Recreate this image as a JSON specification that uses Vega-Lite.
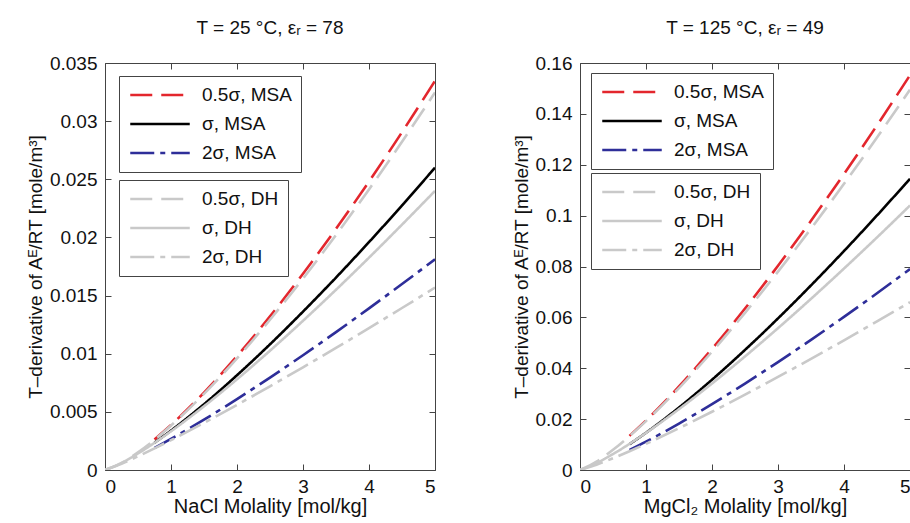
{
  "$schema": "https://vega.github.io/schema/vega-lite/v6.json",
  "background": "white",
  "padding": {"left": 25, "top": 18, "right": 0, "bottom": 0},
  "datasets": {
    "pts": [
      {"p":"L","s":"0.5σ, MSA","x":0.75,"y":0.00263},{"p":"L","s":"0.5σ, MSA","x":1,"y":0.00387},{"p":"L","s":"0.5σ, MSA","x":1.5,"y":0.00666},{"p":"L","s":"0.5σ, MSA","x":2,"y":0.0098},{"p":"L","s":"0.5σ, MSA","x":2.5,"y":0.01322},{"p":"L","s":"0.5σ, MSA","x":3,"y":0.01687},{"p":"L","s":"0.5σ, MSA","x":3.5,"y":0.02074},{"p":"L","s":"0.5σ, MSA","x":4,"y":0.02481},{"p":"L","s":"0.5σ, MSA","x":4.5,"y":0.02905},{"p":"L","s":"0.5σ, MSA","x":5,"y":0.03346},
      {"p":"L","s":"σ, MSA","x":0.75,"y":0.00235},{"p":"L","s":"σ, MSA","x":1,"y":0.00339},{"p":"L","s":"σ, MSA","x":1.5,"y":0.00566},{"p":"L","s":"σ, MSA","x":2,"y":0.00815},{"p":"L","s":"σ, MSA","x":2.5,"y":0.01081},{"p":"L","s":"σ, MSA","x":3,"y":0.01362},{"p":"L","s":"σ, MSA","x":3.5,"y":0.01655},{"p":"L","s":"σ, MSA","x":4,"y":0.0196},{"p":"L","s":"σ, MSA","x":4.5,"y":0.02275},{"p":"L","s":"σ, MSA","x":5,"y":0.026},
      {"p":"L","s":"2σ, MSA","x":0.75,"y":0.0019},{"p":"L","s":"2σ, MSA","x":1,"y":0.00268},{"p":"L","s":"2σ, MSA","x":1.5,"y":0.00433},{"p":"L","s":"2σ, MSA","x":2,"y":0.0061},{"p":"L","s":"2σ, MSA","x":2.5,"y":0.00795},{"p":"L","s":"2σ, MSA","x":3,"y":0.00987},{"p":"L","s":"2σ, MSA","x":3.5,"y":0.01186},{"p":"L","s":"2σ, MSA","x":4,"y":0.0139},{"p":"L","s":"2σ, MSA","x":4.5,"y":0.01599},{"p":"L","s":"2σ, MSA","x":5,"y":0.01812},
      {"p":"L","s":"0.5σ, DH","x":0,"y":0},{"p":"L","s":"0.5σ, DH","x":0.25,"y":0.0006},{"p":"L","s":"0.5σ, DH","x":0.5,"y":0.00152},{"p":"L","s":"0.5σ, DH","x":0.75,"y":0.0026},{"p":"L","s":"0.5σ, DH","x":1,"y":0.00382},{"p":"L","s":"0.5σ, DH","x":1.5,"y":0.00655},{"p":"L","s":"0.5σ, DH","x":2,"y":0.0096},{"p":"L","s":"0.5σ, DH","x":2.5,"y":0.01292},{"p":"L","s":"0.5σ, DH","x":3,"y":0.01646},{"p":"L","s":"0.5σ, DH","x":3.5,"y":0.02021},{"p":"L","s":"0.5σ, DH","x":4,"y":0.02413},{"p":"L","s":"0.5σ, DH","x":4.5,"y":0.02823},{"p":"L","s":"0.5σ, DH","x":5,"y":0.03247},
      {"p":"L","s":"σ, DH","x":0,"y":0},{"p":"L","s":"σ, DH","x":0.25,"y":0.00061},{"p":"L","s":"σ, DH","x":0.5,"y":0.00142},{"p":"L","s":"σ, DH","x":0.75,"y":0.00234},{"p":"L","s":"σ, DH","x":1,"y":0.00333},{"p":"L","s":"σ, DH","x":1.5,"y":0.00548},{"p":"L","s":"σ, DH","x":2,"y":0.0078},{"p":"L","s":"σ, DH","x":2.5,"y":0.01026},{"p":"L","s":"σ, DH","x":3,"y":0.01283},{"p":"L","s":"σ, DH","x":3.5,"y":0.0155},{"p":"L","s":"σ, DH","x":4,"y":0.01826},{"p":"L","s":"σ, DH","x":4.5,"y":0.0211},{"p":"L","s":"σ, DH","x":5,"y":0.024},
      {"p":"L","s":"2σ, DH","x":0,"y":0},{"p":"L","s":"2σ, DH","x":0.25,"y":0.00054},{"p":"L","s":"2σ, DH","x":0.5,"y":0.00118},{"p":"L","s":"2σ, DH","x":0.75,"y":0.00186},{"p":"L","s":"2σ, DH","x":1,"y":0.00257},{"p":"L","s":"2σ, DH","x":1.5,"y":0.00405},{"p":"L","s":"2σ, DH","x":2,"y":0.0056},{"p":"L","s":"2σ, DH","x":2.5,"y":0.0072},{"p":"L","s":"2σ, DH","x":3,"y":0.00883},{"p":"L","s":"2σ, DH","x":3.5,"y":0.0105},{"p":"L","s":"2σ, DH","x":4,"y":0.0122},{"p":"L","s":"2σ, DH","x":4.5,"y":0.01393},{"p":"L","s":"2σ, DH","x":5,"y":0.01569},
      {"p":"R","s":"0.5σ, MSA","x":0.75,"y":0.01343},{"p":"R","s":"0.5σ, MSA","x":1,"y":0.01947},{"p":"R","s":"0.5σ, MSA","x":1.5,"y":0.03284},{"p":"R","s":"0.5σ, MSA","x":2,"y":0.0476},{"p":"R","s":"0.5σ, MSA","x":2.5,"y":0.06347},{"p":"R","s":"0.5σ, MSA","x":3,"y":0.08031},{"p":"R","s":"0.5σ, MSA","x":3.5,"y":0.09798},{"p":"R","s":"0.5σ, MSA","x":4,"y":0.11639},{"p":"R","s":"0.5σ, MSA","x":4.5,"y":0.13549},{"p":"R","s":"0.5σ, MSA","x":5,"y":0.15522},
      {"p":"R","s":"σ, MSA","x":0.75,"y":0.01014},{"p":"R","s":"σ, MSA","x":1,"y":0.01464},{"p":"R","s":"σ, MSA","x":1.5,"y":0.02458},{"p":"R","s":"σ, MSA","x":2,"y":0.0355},{"p":"R","s":"σ, MSA","x":2.5,"y":0.04721},{"p":"R","s":"σ, MSA","x":3,"y":0.0596},{"p":"R","s":"σ, MSA","x":3.5,"y":0.07258},{"p":"R","s":"σ, MSA","x":4,"y":0.08609},{"p":"R","s":"σ, MSA","x":4.5,"y":0.10007},{"p":"R","s":"σ, MSA","x":5,"y":0.1145},
      {"p":"R","s":"2σ, MSA","x":0.75,"y":0.00785},{"p":"R","s":"2σ, MSA","x":1,"y":0.01114},{"p":"R","s":"2σ, MSA","x":1.5,"y":0.01825},{"p":"R","s":"2σ, MSA","x":2,"y":0.0259},{"p":"R","s":"2σ, MSA","x":2.5,"y":0.03398},{"p":"R","s":"2σ, MSA","x":3,"y":0.04242},{"p":"R","s":"2σ, MSA","x":3.5,"y":0.05118},{"p":"R","s":"2σ, MSA","x":4,"y":0.0602},{"p":"R","s":"2σ, MSA","x":4.5,"y":0.06949},{"p":"R","s":"2σ, MSA","x":5,"y":0.07899},
      {"p":"R","s":"0.5σ, DH","x":0,"y":0},{"p":"R","s":"0.5σ, DH","x":0.25,"y":0.00328},{"p":"R","s":"0.5σ, DH","x":0.5,"y":0.00794},{"p":"R","s":"0.5σ, DH","x":0.75,"y":0.01332},{"p":"R","s":"0.5σ, DH","x":1,"y":0.01922},{"p":"R","s":"0.5σ, DH","x":1.5,"y":0.03222},{"p":"R","s":"0.5σ, DH","x":2,"y":0.0465},{"p":"R","s":"0.5σ, DH","x":2.5,"y":0.0618},{"p":"R","s":"0.5σ, DH","x":3,"y":0.07797},{"p":"R","s":"0.5σ, DH","x":3.5,"y":0.0949},{"p":"R","s":"0.5σ, DH","x":4,"y":0.11249},{"p":"R","s":"0.5σ, DH","x":4.5,"y":0.13072},{"p":"R","s":"0.5σ, DH","x":5,"y":0.14952},
      {"p":"R","s":"σ, DH","x":0,"y":0},{"p":"R","s":"σ, DH","x":0.25,"y":0.00269},{"p":"R","s":"σ, DH","x":0.5,"y":0.00627},{"p":"R","s":"σ, DH","x":0.75,"y":0.01027},{"p":"R","s":"σ, DH","x":1,"y":0.0146},{"p":"R","s":"σ, DH","x":1.5,"y":0.02394},{"p":"R","s":"σ, DH","x":2,"y":0.034},{"p":"R","s":"σ, DH","x":2.5,"y":0.04464},{"p":"R","s":"σ, DH","x":3,"y":0.05576},{"p":"R","s":"σ, DH","x":3.5,"y":0.06729},{"p":"R","s":"σ, DH","x":4,"y":0.0792},{"p":"R","s":"σ, DH","x":4.5,"y":0.09144},{"p":"R","s":"σ, DH","x":5,"y":0.10399},
      {"p":"R","s":"2σ, DH","x":0,"y":0},{"p":"R","s":"2σ, DH","x":0.25,"y":0.00207},{"p":"R","s":"2σ, DH","x":0.5,"y":0.00462},{"p":"R","s":"2σ, DH","x":0.75,"y":0.00738},{"p":"R","s":"2σ, DH","x":1,"y":0.01028},{"p":"R","s":"2σ, DH","x":1.5,"y":0.01643},{"p":"R","s":"2σ, DH","x":2,"y":0.0229},{"p":"R","s":"2σ, DH","x":2.5,"y":0.02963},{"p":"R","s":"2σ, DH","x":3,"y":0.03658},{"p":"R","s":"2σ, DH","x":3.5,"y":0.0437},{"p":"R","s":"2σ, DH","x":4,"y":0.05099},{"p":"R","s":"2σ, DH","x":4.5,"y":0.05842},{"p":"R","s":"2σ, DH","x":5,"y":0.06599}
    ]
  },
  "hconcat": [
    {
      "width": 330, "height": 407,
      "title": {"text": "T = 25 °C, εᵣ = 78"},
      "data": {"name": "pts"},
      "transform": [{"filter": {"field": "p", "equal": "L"}}],
      "layer": [
        {
          "transform": [{"filter": {"field": "s", "oneOf": ["0.5σ, MSA", "σ, MSA", "2σ, MSA"]}}],
          "mark": {"type": "line", "strokeWidth": 2.6, "interpolate": "monotone", "clip": true},
          "encoding": {
            "x": {"field": "x", "type": "quantitative", "scale": {"domain": [0, 5], "nice": false}, "axis": {"orient": "bottom", "values": [0,1,2,3,4,5], "title": "NaCl Molality [mol/kg]"}},
            "y": {"field": "y", "type": "quantitative", "scale": {"domain": [0, 0.035], "nice": false}, "axis": {"orient": "left", "values": [0,0.005,0.01,0.015,0.02,0.025,0.03,0.035], "title": "T–derivative of Aᴱ/RT [mole/m³]"}},
            "color": {"field": "s", "type": "nominal", "scale": {"domain": ["0.5σ, MSA", "σ, MSA", "2σ, MSA"], "range": ["#e3262d", "#000000", "#2e2e99"]}, "legend": {"orient": "none", "legendX": 14, "legendY": 13}},
            "strokeDash": {"field": "s", "type": "nominal", "scale": {"domain": ["0.5σ, MSA", "σ, MSA", "2σ, MSA"], "range": [[22, 9], [1, 0], [24, 6, 5, 6]]}, "legend": {"orient": "none", "legendX": 14, "legendY": 13}}
          }
        },
        {
          "transform": [{"filter": {"field": "s", "oneOf": ["0.5σ, DH", "σ, DH", "2σ, DH"]}}],
          "mark": {"type": "line", "strokeWidth": 2.6, "interpolate": "monotone", "clip": true},
          "encoding": {
            "x": {"field": "x", "type": "quantitative", "axis": null},
            "y": {"field": "y", "type": "quantitative", "axis": null},
            "color": {"field": "s", "type": "nominal", "scale": {"domain": ["0.5σ, DH", "σ, DH", "2σ, DH"], "range": ["#c9c9c9", "#c9c9c9", "#c9c9c9"]}, "legend": {"orient": "none", "legendX": 14, "legendY": 117}},
            "strokeDash": {"field": "s", "type": "nominal", "scale": {"domain": ["0.5σ, DH", "σ, DH", "2σ, DH"], "range": [[22, 9], [1, 0], [24, 6, 5, 6]]}, "legend": {"orient": "none", "legendX": 14, "legendY": 117}}
          }
        },
        {
          "mark": {"type": "line", "strokeOpacity": 0},
          "encoding": {
            "x": {"field": "x", "type": "quantitative", "axis": {"orient": "top", "values": [0,1,2,3,4,5], "labels": false, "title": null}},
            "y": {"field": "y", "type": "quantitative", "axis": {"orient": "right", "values": [0,0.005,0.01,0.015,0.02,0.025,0.03,0.035], "labels": false, "title": null}},
            "detail": {"field": "s"}
          }
        }
      ],
      "resolve": {"scale": {"color": "independent", "strokeDash": "independent"}, "axis": {"x": "independent", "y": "independent"}}
    },
    {
      "width": 330, "height": 407,
      "title": {"text": "T = 125 °C, εᵣ = 49"},
      "data": {"name": "pts"},
      "transform": [{"filter": {"field": "p", "equal": "R"}}],
      "layer": [
        {
          "transform": [{"filter": {"field": "s", "oneOf": ["0.5σ, MSA", "σ, MSA", "2σ, MSA"]}}],
          "mark": {"type": "line", "strokeWidth": 2.6, "interpolate": "monotone", "clip": true},
          "encoding": {
            "x": {"field": "x", "type": "quantitative", "scale": {"domain": [0, 5], "nice": false}, "axis": {"orient": "bottom", "values": [0,1,2,3,4,5], "title": "MgCl₂ Molality [mol/kg]"}},
            "y": {"field": "y", "type": "quantitative", "scale": {"domain": [0, 0.16], "nice": false}, "axis": {"orient": "left", "values": [0,0.02,0.04,0.06,0.08,0.1,0.12,0.14,0.16], "title": "T–derivative of Aᴱ/RT [mole/m³]"}},
            "color": {"field": "s", "type": "nominal", "scale": {"domain": ["0.5σ, MSA", "σ, MSA", "2σ, MSA"], "range": ["#e3262d", "#000000", "#2e2e99"]}, "legend": {"orient": "none", "legendX": 11, "legendY": 10}},
            "strokeDash": {"field": "s", "type": "nominal", "scale": {"domain": ["0.5σ, MSA", "σ, MSA", "2σ, MSA"], "range": [[22, 9], [1, 0], [24, 6, 5, 6]]}, "legend": {"orient": "none", "legendX": 11, "legendY": 10}}
          }
        },
        {
          "transform": [{"filter": {"field": "s", "oneOf": ["0.5σ, DH", "σ, DH", "2σ, DH"]}}],
          "mark": {"type": "line", "strokeWidth": 2.6, "interpolate": "monotone", "clip": true},
          "encoding": {
            "x": {"field": "x", "type": "quantitative", "axis": null},
            "y": {"field": "y", "type": "quantitative", "axis": null},
            "color": {"field": "s", "type": "nominal", "scale": {"domain": ["0.5σ, DH", "σ, DH", "2σ, DH"], "range": ["#c9c9c9", "#c9c9c9", "#c9c9c9"]}, "legend": {"orient": "none", "legendX": 11, "legendY": 110}},
            "strokeDash": {"field": "s", "type": "nominal", "scale": {"domain": ["0.5σ, DH", "σ, DH", "2σ, DH"], "range": [[22, 9], [1, 0], [24, 6, 5, 6]]}, "legend": {"orient": "none", "legendX": 11, "legendY": 110}}
          }
        },
        {
          "mark": {"type": "line", "strokeOpacity": 0},
          "encoding": {
            "x": {"field": "x", "type": "quantitative", "axis": {"orient": "top", "values": [0,1,2,3,4,5], "labels": false, "title": null}},
            "y": {"field": "y", "type": "quantitative", "axis": {"orient": "right", "values": [0,0.02,0.04,0.06,0.08,0.1,0.12,0.14,0.16], "labels": false, "title": null}},
            "detail": {"field": "s"}
          }
        }
      ],
      "resolve": {"scale": {"color": "independent", "strokeDash": "independent"}, "axis": {"x": "independent", "y": "independent"}}
    }
  ],
  "spacing": 75,
  "config": {
    "font": "Liberation Sans",
    "view": {"stroke": "#444444", "strokeWidth": 1},
    "title": {"fontSize": 19, "fontWeight": "normal", "color": "#111111", "offset": 16, "anchor": "middle"},
    "axis": {
      "domain": false, "grid": false, "ticks": true, "tickSize": -6, "tickColor": "#444444", "tickWidth": 1,
      "labelFontSize": 19, "labelColor": "#111111", "labelPadding": 14, "format": "~g",
      "titleFontSize": 19, "titleFontWeight": "normal", "titleColor": "#111111", "titlePadding": 4
    },
    "axisX": {"titleFontSize": 20, "titlePadding": 0, "labelPadding": 13},
    "legend": {
      "title": null, "padding": 9, "strokeColor": "#444444", "fillColor": "white",
      "symbolType": "M-3.5,0H3.5", "symbolSize": 289, "symbolStrokeWidth": 2.6,
      "symbolOffset": 22, "labelOffset": 32, "rowPadding": 9,
      "labelFontSize": 19, "labelColor": "#111111", "labelLimit": 300
    }
  }
}
